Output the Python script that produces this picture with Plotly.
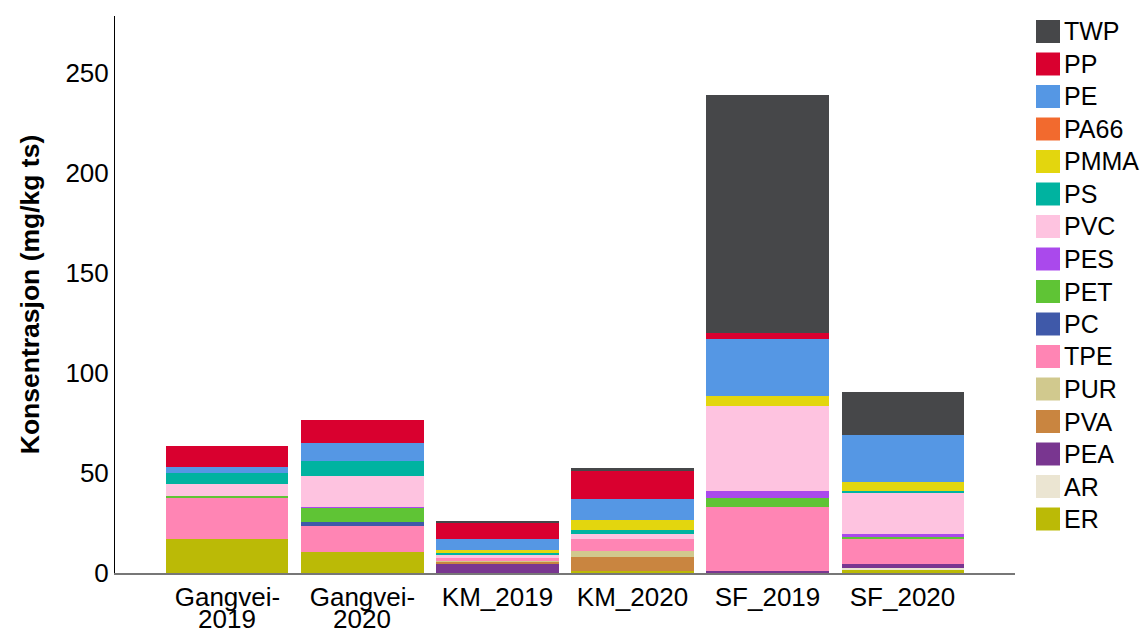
import plotly.graph_objects as go

sites = ["Gangvei-2019", "Gangvei-2020", "KM_2019", "KM_2020", "SF_2019", "SF_2020"]
tick_labels = ["Gangvei-", "Gangvei-", "KM_2019", "KM_2020", "SF_2019", "SF_2020"]
second_line = {"Gangvei-2019": "2019", "Gangvei-2020": "2020"}

# mg/kg ts per polymer, one value per site (bottom to top of stack)
ER = [17.0, 10.7, 0.0, 0.8, 0.0, 1.5]
AR = [0.0, 0.0, 0.0, 0.0, 0.0, 0.9]
PEA = [0.0, 0.0, 4.3, 0.0, 1.0, 2.2]
PVA = [0.0, 0.0, 1.5, 7.2, 0.0, 0.0]
PUR = [0.0, 0.0, 0.3, 3.0, 0.0, 0.0]
TPE = [20.5, 12.8, 1.3, 6.0, 32.0, 12.2]
PC = [0.0, 2.0, 0.0, 0.0, 0.0, 0.0]
PET = [1.0, 7.0, 0.0, 0.0, 4.5, 1.0]
PES = [0.0, 0.7, 0.0, 0.0, 3.5, 1.7]
PVC = [6.0, 15.3, 1.4, 2.5, 42.5, 20.5]
PS = [5.5, 7.5, 1.0, 2.0, 0.0, 1.0]
PMMA = [0.0, 0.0, 1.8, 5.0, 5.0, 4.5]
PA66 = [0.0, 0.0, 0.0, 0.0, 0.0, 0.0]
PE = [3.0, 9.0, 5.3, 10.5, 28.5, 23.5]
PP = [10.5, 11.5, 8.5, 14.0, 3.0, 0.0]
TWP = [0.0, 0.0, 0.7, 1.5, 119.0, 21.5]

series = [
    ("ER", ER, "#bbba06"),
    ("AR", AR, "#ebe5d2"),
    ("PEA", PEA, "#793690"),
    ("PVA", PVA, "#c98540"),
    ("PUR", PUR, "#d1c98e"),
    ("TPE", TPE, "#ff85b4"),
    ("PC", PC, "#3f59a9"),
    ("PET", PET, "#5fc435"),
    ("PES", PES, "#aa49ec"),
    ("PVC", PVC, "#fec3e0"),
    ("PS", PS, "#00b3a0"),
    ("PMMA", PMMA, "#e3d60e"),
    ("PA66", PA66, "#f26a2e"),
    ("PE", PE, "#5597e4"),
    ("PP", PP, "#d9002f"),
    ("TWP", TWP, "#464749"),
]

# page has an 8px body margin, so the figure sits 8px in from the top-left
W, H = 1140, 625
L, R, T, B = 107, 133, 8, 60
pw, ph = W - L - R, H - T - B
FONT = "Liberation Sans, Arial, sans-serif"
OFF = 8

fig = go.Figure()
for name, vals, col in series:
    fig.add_trace(go.Bar(x=sites, y=vals, name=name, marker_color=col,
                         marker_line_width=0, showlegend=False))

# legend drawn by hand so the colour keys can be as big as in the original
shapes, annos = [], []
for i, (name, vals, col) in enumerate(reversed(series)):
    top = 20 + i * 32.5 - OFF
    shapes.append(dict(type="rect", xref="paper", yref="paper",
                       x0=(1036 - OFF - L) / pw, x1=(1060 - OFF - L) / pw,
                       y0=(H - B - top) / ph, y1=(H - B - top - 23) / ph,
                       fillcolor=col, line_width=0))
    annos.append(dict(text=name, xref="paper", yref="paper",
                      x=(1062 - OFF - L) / pw, y=(H - B - top - 11.5) / ph,
                      xanchor="left", yanchor="middle", showarrow=False,
                      font=dict(size=25, family=FONT, color="black")))

for s, txt in second_line.items():
    annos.append(dict(text=txt, xref="x", yref="paper", x=s, y=-46 / ph,
                      xanchor="center", yanchor="middle", showarrow=False,
                      font=dict(size=26, family=FONT, color="black")))

fig.update_layout(
    barmode="stack",
    bargap=0.096,
    width=W, height=H,
    plot_bgcolor="white", paper_bgcolor="white",
    font=dict(family=FONT, size=26, color="black"),
    margin=dict(l=L, r=R, t=T, b=B, autoexpand=False),
    showlegend=False,
    shapes=shapes,
    annotations=annos,
)
fig.update_xaxes(showline=True, linecolor="#777777", linewidth=2, ticks="",
                 range=[-0.833, 5.833], automargin=False,
                 tickvals=sites, ticktext=tick_labels)
fig.update_yaxes(range=[0, 278.5], showline=True, linecolor="black", linewidth=1,
                 showgrid=False, zeroline=False, tickvals=[0, 50, 100, 150, 200, 250],
                 ticks="", automargin=False,
                 title=dict(text="<b>Konsentrasjon (mg/kg ts)</b>", font=dict(size=26.5),
                            standoff=18))

fig.write_html("out.html")
